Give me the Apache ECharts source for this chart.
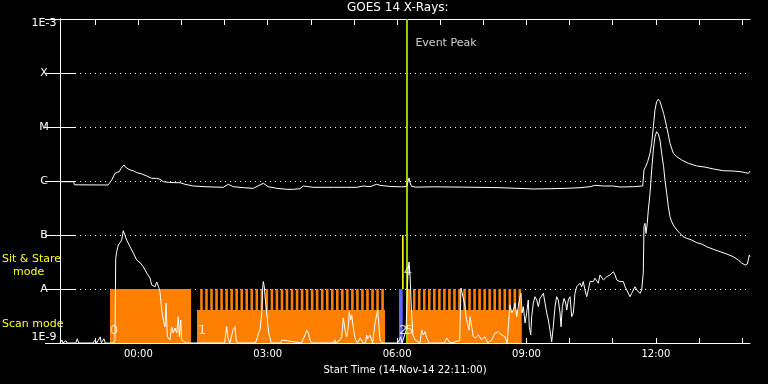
<!DOCTYPE html>
<html><head><meta charset="utf-8">
<script src="https://cdn.jsdelivr.net/npm/echarts@6/dist/echarts.min.js"></script>
<style>html,body{margin:0;padding:0;background:#000}#c{width:768px;height:384px}</style>
</head><body><div id="c"></div>
<script>
// ---- data (time in minutes since 14-Nov-14 22:11:00, flux in W/m^2) ----
const titleText = 'GOES 14 X-Rays:';
const xAxisTitle = 'Start Time (14-Nov-14 22:11:00)';
const timeSpan = [0, 960];
const hourTicks = [49,109,169,229,289,349,409,469,529,589,649,709,769,829,889,949];
const timeLabelValues = [109,289,469,649,829];
const timeLabels = ['00:00','03:00','06:00','09:00','12:00'];
const fluxLevels = [1e-9,1e-8,1e-7,1e-6,1e-5,1e-4,1e-3];
const levelLabels = ['1E-9','A','B','C','M','X','1E-3'];

const longChannel = [
[0,9.7e-7],[19,9.7e-7],[20,8.5e-7],[66.8,8.43e-7],[68.6,9.07e-7],[71.9,1.04e-6],[76.5,1.39e-6],[79.7,1.45e-6],[82.5,1.49e-6],[84.9,1.72e-6],[87.2,1.84e-6],[89,1.98e-6],[91.4,1.79e-6],[92.8,1.65e-6],[97.4,1.6e-6],[102,1.55e-6],[106.7,1.43e-6],[113.7,1.35e-6],[120.6,1.24e-6],[127.6,1.12e-6],[134.6,1.12e-6],[135.9,1.19e-6],[139.1,1.075e-6],[143.7,9.7e-7],[150.7,9.46e-7],[160,9.3e-7],[167,9.3e-7],[173.9,8.69e-7],[185.5,8.08e-7],[201.7,7.84e-7],[227.2,7.64e-7],[234.2,8.69e-7],[241.1,7.84e-7],[255,7.52e-7],[268.9,7.32e-7],[282.9,9.07e-7],[289.8,7.84e-7],[301.5,7.32e-7],[315.4,7.02e-7],[324.6,7.02e-7],[333.9,7.2e-7],[338.5,8.08e-7],[352.4,7.64e-7],[380.2,7.64e-7],[382.6,8.08e-7],[398.9,7.64e-7],[412.8,7.64e-7],[422,8.08e-7],[431.3,7.84e-7],[440.6,8.69e-7],[445.2,8.32e-7],[460,7.9e-7],[475,7.8e-7],[482,7.9e-7],[484,9.5e-7],[485.6,1.14e-6],[487,9.3e-7],[489,8.0e-7],[495,7.7e-7],[520,7.8e-7],[560,7.7e-7],[590,7.6e-7],[612.2,7.52e-7],[635.4,7.32e-7],[658.5,7.11e-7],[681.7,7.2e-7],[705,7.32e-7],[723.5,7.52e-7],[737.4,7.84e-7],[744.3,8.32e-7],[756,8.08e-7],[769.9,8.08e-7],[772.2,8.32e-7],[779.1,7.74e-7],[797.7,7.84e-7],[810.7,8.08e-7],[812.5,1.6e-6],[814.8,1.84e-6],[817.6,2.28e-6],[820.9,3.26e-6],[823.2,4.99e-6],[825.5,1.01e-5],[827.8,2.07e-5],[830.1,2.94e-5],[832.5,3.26e-5],[834.8,2.94e-5],[839.8,1.79e-5],[844.1,1.01e-5],[848.7,4.99e-6],[853.3,3.26e-6],[858.1,2.82e-6],[865,2.45e-6],[874.1,2.13e-6],[885.9,1.9e-6],[897.4,1.81e-6],[909,1.67e-6],[923,1.55e-6],[936.8,1.53e-6],[946.1,1.49e-6],[953.2,1.43e-6],[957.8,1.39e-6],[960,1.53e-6]
];

const shortChannel = [
[0,1.0e-9],[2.8,1.14e-9],[4,1.0e-9],[8.3,1.1e-9],[10,1.0e-9],[22,1.0e-9],[24,1.2e-9],[26,1.0e-9],[46,1.0e-9],[49,1.14e-9],[51,1.0e-9],[56,1.3e-9],[57.5,1.0e-9],[61,1.2e-9],[63,1.0e-9],[74,1.0e-9],[76.5,1.1e-9],[77.5,3.7e-8],[78.9,4.91e-8],[81.1,6.53e-8],[83.5,7.2e-8],[85.8,8.07e-8],[88.1,1.2e-7],[92.8,8.07e-8],[97.4,6.07e-8],[102,4.64e-8],[106.7,3.44e-8],[111.3,3.07e-8],[115.9,2.59e-8],[120.6,1.98e-8],[125.2,1.6e-8],[127.6,1.19e-8],[132.2,1.1e-8],[134.6,1.35e-8],[136.8,1.3e-8],[137.7,1.04e-8],[139.1,8.9e-9],[141.5,4.08e-9],[143.7,2.67e-9],[146.1,2.0e-9],[147.5,5.5e-9],[149.3,1.31e-9],[153,1.14e-9],[155.4,2.0e-9],[157.6,1.53e-9],[160,1.9e-9],[162.4,1.53e-9],[164.6,3.07e-9],[166,1.31e-9],[168,2.67e-9],[169.3,1.14e-9],[171.5,1.05e-9],[176,1.0e-9],[229,1.0e-9],[231.9,2.0e-9],[233.7,1.24e-9],[236.5,1.0e-9],[240.7,1.74e-9],[243.5,2.0e-9],[245,1.14e-9],[247,1.0e-9],[271,1.0e-9],[273.7,1.14e-9],[276.1,1.53e-9],[278.3,1.74e-9],[280.7,3.6e-9],[282,1.04e-8],[282.9,1.37e-8],[284.2,1.1e-8],[285.7,6.25e-9],[287.6,3.6e-9],[289,2.35e-9],[290.4,1.53e-9],[292.2,1.24e-9],[294,1.0e-9],[307,1.0e-9],[308.5,1.14e-9],[310.3,1.05e-9],[336,1.0e-9],[338.5,1.05e-9],[340.9,1.41e-9],[343.2,1.74e-9],[345.5,1.53e-9],[347.8,1.14e-9],[350,1.0e-9],[381,1.0e-9],[382.6,1.14e-9],[384,1.0e-9],[389.6,1.14e-9],[391.9,1.31e-9],[394.2,2.9e-9],[396.5,1.74e-9],[398.9,1.31e-9],[401.1,2.0e-9],[402.5,3.8e-9],[404.4,2.67e-9],[405.8,3.3e-9],[408.1,3.07e-9],[409.5,1.41e-9],[411.4,1.14e-9],[414,1.0e-9],[416,1.0e-9],[417.4,1.24e-9],[419.7,1.14e-9],[422,1.0e-9],[425,1.0e-9],[426.7,1.41e-9],[428,1.2e-9],[431.3,1.41e-9],[432.7,1.24e-9],[435,1.0e-9],[438.3,2.35e-9],[440.6,3.3e-9],[442,4.08e-9],[443.8,2.0e-9],[445.2,1.14e-9],[448,1.0e-9],[470,1.0e-9],[474,1.3e-9],[476,1.0e-9],[481.4,1.7e-9],[482.8,6.2e-9],[484.2,2.25e-8],[485.6,3.16e-8],[487,1.8e-8],[488.4,6.2e-9],[489.7,2.7e-9],[491.1,1.4e-9],[493.9,1.14e-9],[500.9,1.0e-9],[503.2,1.74e-9],[505.4,1.41e-9],[507.8,1.62e-9],[510.2,1.24e-9],[514,1.0e-9],[535,1.0e-9],[538,1.24e-9],[540.3,1.14e-9],[543,1.0e-9],[556,1.1e-9],[557.9,1.04e-8],[559.7,9.6e-9],[561.7,6.25e-9],[563.5,4.7e-9],[564.9,3.07e-9],[566.7,2.35e-9],[569.1,1.74e-9],[570.4,3.07e-9],[572.8,2.0e-9],[575,1.31e-9],[578.3,1.24e-9],[582,1.41e-9],[586.7,1.14e-9],[591.3,1.31e-9],[595,1.0e-9],[600.6,1.14e-9],[605.2,1.53e-9],[609.8,1.62e-9],[614.5,1.41e-9],[619.1,1.31e-9],[622,1.0e-9],[626.1,5.06e-9],[628.5,3.6e-9],[630.7,4.08e-9],[633,5.5e-9],[635.4,3.07e-9],[637.6,4.7e-9],[640,7.2e-9],[641.4,8.3e-9],[642.8,3.6e-9],[644.6,4.7e-9],[647,2.35e-9],[649.3,3.6e-9],[651.5,6.25e-9],[652.9,2.0e-9],[654.9,1.41e-9],[656.3,3.07e-9],[658.5,5.5e-9],[660.9,7.2e-9],[663.2,6.25e-9],[665.5,4.7e-9],[667.8,6.7e-9],[670.2,6.25e-9],[672.5,8.3e-9],[674.8,5.5e-9],[677.2,3.6e-9],[679.4,2.67e-9],[681.7,1.74e-9],[684.1,1.05e-9],[686.3,2.0e-9],[688.7,4.7e-9],[691,7.2e-9],[693.3,6.25e-9],[695.7,3.6e-9],[697.1,2.0e-9],[698.9,4.7e-9],[701.2,6.7e-9],[703.6,5.5e-9],[705,4.08e-9],[707.2,6.25e-9],[709.6,7.2e-9],[711.9,3.07e-9],[714.2,3.6e-9],[716.5,8.3e-9],[718.8,1.1e-8],[721.1,1.19e-8],[723.5,1.28e-8],[725.8,1.1e-8],[728,1.37e-8],[730.4,9.6e-9],[732.8,7.2e-9],[735,9.6e-9],[737.4,1.37e-8],[739.7,1.47e-8],[742,1.37e-8],[744.3,1.58e-8],[746.7,1.69e-8],[748.9,1.28e-8],[751.3,1.82e-8],[753.7,1.69e-8],[756,1.47e-8],[758.3,1.58e-8],[760.6,1.69e-8],[763,1.58e-8],[765.2,1.82e-8],[767.6,1.69e-8],[769.9,2.09e-8],[772.2,1.82e-8],[774.6,1.47e-8],[776.9,1.58e-8],[779.1,1.37e-8],[781.5,1.28e-8],[783.8,1.37e-8],[786.1,1.1e-8],[788.5,9.6e-9],[790.7,1.04e-8],[793,7.2e-9],[795.4,8.3e-9],[797.7,9.6e-9],[800,1.1e-8],[802.4,9.6e-9],[804.6,9.2e-9],[807,8.3e-9],[809.3,9.6e-9],[811.5,2.0e-8],[812.5,1.43e-7],[813.9,1.65e-7],[815.3,1.07e-7],[817.1,1.65e-7],[818.5,2.9e-7],[820.9,5.9e-7],[823.2,1.6e-6],[825.5,3.75e-6],[827.8,6.6e-6],[830.1,8.18e-6],[832.5,7.4e-6],[834.8,5.74e-6],[837.1,3.26e-6],[839.8,1.84e-6],[841.7,1.04e-6],[844.1,5.9e-7],[846.4,3.34e-7],[848.7,2.18e-7],[851.1,1.76e-7],[853.3,1.53e-7],[858.1,1.24e-7],[862.6,1.07e-7],[867.2,9.3e-8],[871.9,8.68e-8],[879,8.07e-8],[885.9,7.2e-8],[892.8,6.81e-8],[899.7,6.07e-8],[909,5.43e-8],[918.3,4.91e-8],[927.6,4.45e-8],[936.8,3.96e-8],[943.7,3.44e-8],[948.4,3.03e-8],[953.2,2.78e-8],[956.4,2.9e-8],[959,4.26e-8],[960,3.96e-8]
];

// observing mode blocks: [start, end, bottom flux, top flux]
const scanBlocks = [[69.6,182.3,1e-9,1e-8],[190.6,452.2,1e-9,4.1e-9],[483.7,642.4,1e-9,4.1e-9]];
const scanStripeStarts = [195,202,209,216,223,230,237,244,251,258,265,272,279,286,293,300,307,314,321,328,335,342,349,356,363,370,377,384,391,398,405,412,419,426,433,440,447,
  484,491,498,505,512,519,526,533,540,547,554,561,568,575,582,589,596,603,610,617,624,631,638];
const scanStripeDuration = 3.6;
const stareBlocks = [[471.6,476.8,1e-9,1e-8]];
const stareMarks = [[475.9,478.1,1e-8,1e-7]];
const eventPeakTime = 482.6;
const digitNotes = [[75,1.7e-9,'0'],[197.6,1.7e-9,'1'],[477.3,1.7e-9,'2'],[486,1.7e-9,'5'],[484,2.1e-8,'4']];
const peakNote = [537,3.6e-4,'Event Peak'];

// ---- chart ----
const stripeBlocks = scanStripeStarts.map(s => [s, s + scanStripeDuration, 1e-9, 1e-8]);
const FONT = 'DejaVu Sans';
function rectSeries(name, data, color, z) {
  return {
    type: 'custom', name, z, data, clip: true,
    encode: { x: [0,1], y: [2,3] },
    renderItem(params, api) {
      const p1 = api.coord([api.value(0), api.value(3)]);
      const p2 = api.coord([api.value(1), api.value(2)]);
      return { type: 'rect', shape: { x: p1[0], y: p1[1], width: p2[0]-p1[0], height: p2[1]-p1[1] }, style: { fill: color } };
    }
  };
}
const levelFmt = v => {
  const i = Math.round(Math.log10(v)) + 9;
  if (i === levelLabels.length - 1) return '{top|' + levelLabels[i] + '}';
  return levelLabels[i];
};
const noteData = digitNotes.map(a => ({ value: [a[0], a[1]], name: a[2], label: { fontSize: 13 } }))
  .concat([{ value: [peakNote[0], peakNote[1]], name: peakNote[2], label: { fontSize: 11 } }]);
const chart = echarts.init(document.getElementById('c'), null, { renderer: 'canvas' });
const axisWhite = { lineStyle: { color: '#fff', width: 1 } };
chart.setOption({
  backgroundColor: '#000',
  animation: false,
  title: { text: titleText, left: 347, top: 2, padding: 0, textStyle: { color: '#fff', fontFamily: FONT, fontSize: 12, fontWeight: 'normal' } },
  grid: { left: 60, right: 18, top: 19, bottom: 41, containLabel: false },
  xAxis: [
    { type: 'value', min: timeSpan[0], max: timeSpan[1], position: 'bottom',
      name: xAxisTitle, nameLocation: 'middle', nameGap: 22,
      nameTextStyle: { color: '#fff', fontFamily: FONT, fontSize: 10 },
      axisLine: axisWhite, splitLine: { show: false },
      axisTick: { inside: true, length: 5, customValues: hourTicks, lineStyle: { color: '#fff' } },
      axisLabel: { customValues: timeLabelValues, color: '#fff', fontFamily: FONT, fontSize: 10, margin: 6,
        formatter: v => timeLabels[timeLabelValues.indexOf(v)] } },
    { type: 'value', min: timeSpan[0], max: timeSpan[1], position: 'top',
      axisLine: axisWhite, splitLine: { show: false },
      axisTick: { inside: true, length: 6, customValues: hourTicks, lineStyle: { color: '#fff' } },
      axisLabel: { show: false } }
  ],
  yAxis: [
    { type: 'log', logBase: 10, min: fluxLevels[0], max: fluxLevels[fluxLevels.length-1], position: 'left', splitNumber: 6,
      axisLine: axisWhite,
      axisTick: { inside: true, length: 15, lineStyle: { color: '#fff' } },
      splitLine: { show: true, lineStyle: { color: '#fff', width: 1, type: [1,4] } },
      axisLabel: { color: '#fff', fontFamily: FONT, fontSize: 11, margin: 16, align: 'center',
        verticalAlignMinLabel: 'bottom', formatter: levelFmt,
        rich: { top: { color: '#fff', fontFamily: FONT, fontSize: 11, padding: [9,0,0,0] } } } },
    { type: 'log', logBase: 10, min: fluxLevels[0], max: fluxLevels[fluxLevels.length-1], position: 'right', splitNumber: 6,
      axisLine: axisWhite,
      axisTick: { inside: true, length: 15, lineStyle: { color: '#fff' } },
      splitLine: { show: false }, axisLabel: { show: false } }
  ],
  graphic: [
    { type: 'text', left: 2, top: 254, style: { text: 'Sit & Stare', fill: '#ffff00', font: '11px "DejaVu Sans"' } },
    { type: 'text', left: 13, top: 267, style: { text: 'mode', fill: '#ffff00', font: '11px "DejaVu Sans"' } },
    { type: 'text', left: 2, top: 319, style: { text: 'Scan mode', fill: '#ffff00', font: '11px "DejaVu Sans"' } }
  ],
  series: [
    rectSeries('scan', scanBlocks, '#ff8000', 1),
    rectSeries('scanStripes', stripeBlocks, '#ff8000', 1),
    rectSeries('stare', stareBlocks, '#6464ff', 2),
    rectSeries('stareMark', stareMarks, '#ffff00', 2),
    { type: 'line', name: 'short', data: shortChannel, showSymbol: false, symbol: 'none', z: 5,
      lineStyle: { color: '#fff', width: 1 }, clip: true },
    { type: 'line', name: 'long', data: longChannel, showSymbol: false, symbol: 'none', z: 5,
      lineStyle: { color: '#fff', width: 1 }, clip: true,
      markLine: { symbol: 'none', silent: true, label: { show: false },
        lineStyle: { color: '#99cc00', width: 2, type: 'solid' }, data: [{ xAxis: eventPeakTime }] } },
    { type: 'scatter', name: 'notes', symbolSize: 0, z: 6, data: noteData,
      label: { show: true, position: 'inside', color: '#fff', fontFamily: FONT, fontSize: 11, formatter: p => p.name } }
  ]
});
</script></body></html>
